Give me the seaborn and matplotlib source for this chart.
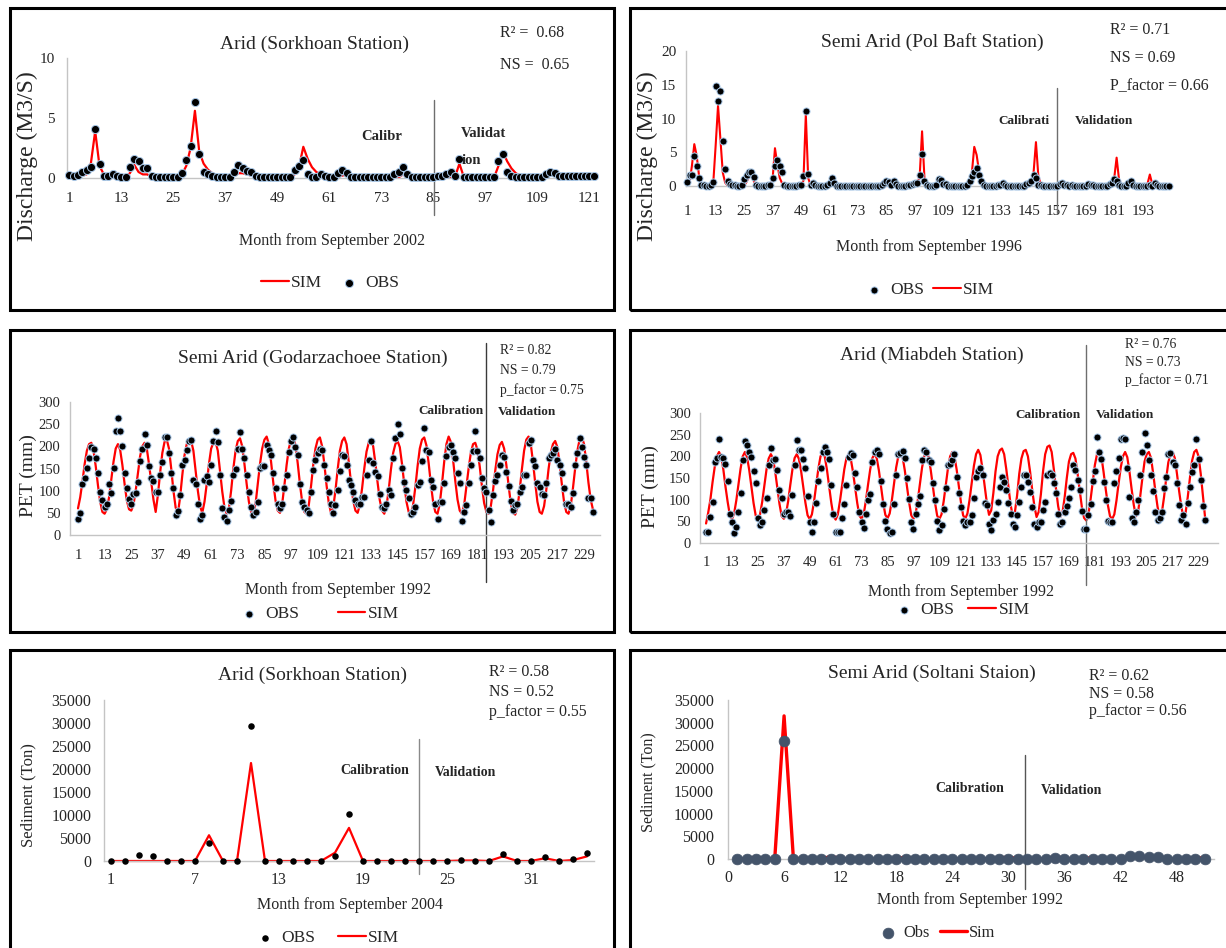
import numpy as np
import matplotlib
matplotlib.use("Agg")
import matplotlib.pyplot as plt
from matplotlib.patches import Rectangle
import seaborn as sns

sns.set_theme(style="white")
# serif look of the original (Times New Roman -> Liberation Serif)
plt.rcParams['font.family'] = ['Liberation Serif', 'DejaVu Serif']

# ---------------- data ----------------
# Panel 1: discharge, Sorkhoan (months from Sep 2002)
p1_obs = [0.28, 0.14, 0.28, 0.5, 0.7, 0.9, 4.1, 1.2, 0.2, 0.2,
          0.3, 0.2, 0.1, 0.1, 0.9, 1.6, 1.4, 0.8, 0.8, 0.2,
          0.1, 0.1, 0.1, 0.1, 0.1, 0.1, 0.4, 1.5, 2.7, 6.3,
          2.0, 0.5, 0.3, 0.2, 0.1, 0.1, 0.1, 0.1, 0.5, 1.1,
          0.8, 0.6, 0.5, 0.2, 0.1, 0.1, 0.1, 0.1, 0.1, 0.1,
          0.1, 0.1, 0.7, 1.0, 1.5, 0.3, 0.1, 0.1, 0.3, 0.2,
          0.1, 0.1, 0.4, 0.7, 0.4, 0.1, 0.1, 0.1, 0.1, 0.1,
          0.1, 0.1, 0.1, 0.1, 0.1, 0.3, 0.5, 0.9, 0.3, 0.1,
          0.1, 0.1, 0.1, 0.1, 0.1, 0.15, 0.2, 0.3, 0.5, 0.2,
          1.6, 0.1, 0.1, 0.1, 0.1, 0.1, 0.1, 0.1, 0.1, 1.4,
          2.0, 0.5, 0.2, 0.1, 0.1, 0.1, 0.1, 0.1, 0.1, 0.1,
          0.3, 0.5, 0.4, 0.2, 0.15, 0.15, 0.15, 0.15, 0.15, 0.15, 0.15, 0.15]
p1_sim = [0.2, 0.1, 0.1, 0.2, 0.3, 1.2, 3.9, 1.0, 0.3, 0.1,
          0.1, 0.1, 0.1, 0.1, 0.4, 1.1, 0.5, 0.3, 0.3, 0.1,
          0.05, 0.05, 0.05, 0.05, 0.05, 0.05, 0.3, 1.0, 2.5, 5.6,
          2.2, 1.2, 0.7, 0.4, 0.2, 0.1, 0.05, 0.05, 0.2, 0.4,
          0.4, 0.3, 0.2, 0.1, 0.05, 0.05, 0.05, 0.05, 0.05, 0.05,
          0.05, 0.05, 0.3, 0.9, 2.6, 1.6, 0.9, 0.5, 0.3, 0.2,
          0.1, 0.1, 0.1, 0.2, 0.3, 0.2, 0.05, 0.05, 0.05, 0.05,
          0.05, 0.05, 0.05, 0.05, 0.05, 0.05, 0.05, 0.3, 0.5, 0.2,
          0.05, 0.05, 0.05, 0.05, 0.05, 0.05, 0.05, 0.05, 0.05, 0.1,
          1.2, 0.1, 0.05, 0.05, 0.05, 0.05, 0.05, 0.05, 0.05, 1.0,
          2.2, 1.4, 0.8, 0.4, 0.2, 0.05, 0.05, 0.05, 0.05, 0.05,
          0.2, 0.3, 0.3, 0.2, 0.1, 0.1, 0.1, 0.1, 0.1, 0.1, 0.1, 0.1]

# Panel 2: discharge, Pol Baft (months from Sep 1996)
p2_obs = [0.6, 1.7, 1.7, 4.4, 2.9, 1.2, 0.1, 0.1, 0.0, 0.0,
          0.1, 0.6, 14.8, 12.6, 14.1, 6.7, 2.5, 0.8, 0.3, 0.1,
          0.1, 0.0, 0.0, 0.1, 1.0, 1.6, 2.1, 2.1, 1.3, 0.1,
          0.0, 0.0, 0.0, 0.0, 0.1, 0.1, 1.2, 3.0, 3.8, 3.0,
          2.1, 0.2, 0.0, 0.0, 0.0, 0.0, 0.0, 0.1, 0.2, 1.5,
          11.1, 1.8, 0.1, 0.4, 0.1, 0.0, 0.0, 0.0, 0.0, 0.1,
          0.4, 1.2, 0.4, 0.0, 0.0, 0.0, 0.0, 0.0, 0.0, 0.0,
          0.0, 0.0, 0.0, 0.0, 0.0, 0.0, 0.0, 0.0, 0.0, 0.0,
          0.0, 0.0, 0.1, 0.4, 0.7, 0.6, 0.2, 0.7, 0.3, 0.0,
          0.0, 0.0, 0.0, 0.1, 0.2, 0.3, 0.4, 0.5, 1.6, 4.7,
          0.7, 0.2, 0.0, 0.0, 0.0, 0.1, 1.0, 0.9, 0.3, 0.3,
          0.0, 0.0, 0.0, 0.0, 0.0, 0.0, 0.0, 0.0, 0.2, 0.8,
          1.5, 2.0, 2.6, 1.7, 0.7, 0.2, 0.0, 0.0, 0.0, 0.0,
          0.0, 0.1, 0.2, 0.4, 0.2, 0.0, 0.0, 0.0, 0.0, 0.0,
          0.0, 0.0, 0.0, 0.3, 0.5, 0.8, 1.6, 1.2, 0.2, 0.1,
          0.0, 0.0, 0.0, 0.0, 0.0, 0.0, 0.0, 0.3, 0.4, 0.2,
          0.1, 0.0, 0.2, 0.0, 0.0, 0.0, 0.0, 0.0, 0.0, 0.3,
          0.1, 0.2, 0.0, 0.0, 0.0, 0.0, 0.0, 0.0, 0.3, 0.5,
          1.0, 0.7, 0.1, 0.0, 0.0, 0.0, 0.4, 0.7, 0.1, 0.0,
          0.0, 0.0, 0.0, 0.0, 0.0, 0.1, 0.0, 0.4, 0.2, 0.0,
          0.0, 0.0, 0.0, 0.0]
p2_sim = [0.2, 0.5, 3.0, 6.2, 4.5, 1.5, 0.3, 0.1, 0.0, 0.0,
          0.0, 0.5, 6.0, 11.9, 7.0, 2.0, 0.5, 0.1, 0.0, 0.0,
          0.0, 0.0, 0.0, 0.0, 0.1, 0.6, 1.3, 1.6, 0.8, 0.1,
          0.0, 0.0, 0.0, 0.0, 0.0, 0.0, 1.0, 5.6, 3.2, 1.2,
          0.4, 0.1, 0.0, 0.0, 0.0, 0.0, 0.0, 0.0, 0.0, 0.8,
          10.6, 1.2, 0.1, 0.0, 0.0, 0.0, 0.0, 0.0, 0.0, 0.0,
          0.2, 0.3, 0.1, 0.0, 0.0, 0.0, 0.0, 0.0, 0.0, 0.0,
          0.0, 0.0, 0.0, 0.0, 0.0, 0.0, 0.0, 0.0, 0.0, 0.0,
          0.0, 0.0, 0.0, 0.0, 0.0, 0.0, 0.0, 0.0, 0.0, 0.0,
          0.0, 0.0, 0.0, 0.0, 0.0, 0.0, 0.0, 0.3, 1.5, 8.1,
          1.2, 0.3, 0.0, 0.0, 0.0, 0.0, 0.6, 0.8, 0.3, 0.1,
          0.0, 0.0, 0.0, 0.0, 0.0, 0.0, 0.0, 0.0, 0.0, 0.5,
          2.0, 5.8, 4.6, 2.2, 0.6, 0.1, 0.0, 0.0, 0.0, 0.0,
          0.0, 0.0, 0.0, 0.0, 0.0, 0.0, 0.0, 0.0, 0.0, 0.0,
          0.0, 0.0, 0.0, 0.0, 0.0, 0.4, 2.0, 6.5, 1.5, 0.2,
          0.0, 0.0, 0.0, 0.0, 0.0, 0.0, 0.0, 0.0, 0.0, 0.0,
          0.0, 0.0, 0.0, 0.0, 0.0, 0.0, 0.0, 0.0, 0.0, 0.0,
          0.0, 0.0, 0.0, 0.0, 0.0, 0.0, 0.0, 0.0, 0.0, 0.3,
          1.2, 4.2, 1.0, 0.2, 0.0, 0.0, 0.0, 0.0, 0.0, 0.0,
          0.0, 0.0, 0.0, 0.0, 0.3, 1.7, 0.3, 0.0, 0.0, 0.0,
          0.0, 0.0, 0.0, 0.0]

# Panel 3: PET, Godarzachoee (months from Sep 1992)
p3_obs = [36, 49, 114, 128, 152, 173, 199, 195, 174, 139, 98, 79,
          64, 71, 114, 94, 152, 235, 265, 235, 200, 139, 107, 81,
          71, 92, 94, 120, 168, 195, 227, 203, 156, 128, 122, 98,
          98, 135, 165, 220, 222, 186, 139, 107, 44, 54, 90, 158,
          169, 192, 211, 214, 124, 114, 69, 36, 44, 124, 132, 120,
          159, 212, 235, 210, 135, 62, 41, 32, 56, 77, 135, 150,
          195, 232, 195, 174, 135, 98, 64, 45, 53, 75, 152, 155,
          155, 203, 192, 181, 139, 107, 71, 62, 71, 107, 135, 188,
          212, 220, 199, 181, 114, 75, 64, 56, 49, 98, 147, 169,
          184, 195, 192, 158, 128, 98,
          71, 49, 68, 101, 144, 180, 178, 158, 124, 113, 98, 79,
          69, 71, 86, 86, 135, 169, 212, 162, 141, 132, 92, 64,
          62, 71, 101, 90, 173, 218, 250, 227, 152, 120, 101, 84,
          47, 51, 64, 113, 120, 167, 242, 192, 188, 124, 109, 69,
          36, 74, 75, 117, 179, 199, 203, 188, 173, 139, 117, 32,
          53, 68, 117, 159, 190, 235, 190, 174, 129,
          107, 98, 56, 30, 90, 122, 135, 158, 180, 176, 143, 111,
          77, 56, 68, 71, 96, 109, 135, 135, 207, 214, 169, 155,
          117, 109, 92, 90, 117, 174, 180, 184, 195, 169, 158, 139,
          107, 71, 69, 64, 94, 158, 186, 218, 199, 176, 158, 83, 83, 53]
p3_sim = [60, 85, 120, 160, 190, 205, 208, 190, 155, 112, 75, 52, 48,
          58, 85, 125, 165, 195, 205, 192, 158, 115, 78, 58, 55,
          68, 100, 140, 178, 200, 208, 195, 160, 120, 80, 52,
          90, 140, 185, 210, 215, 195, 150, 100, 62, 48,
          85, 135, 180, 205, 210, 212, 190, 145, 100, 65, 50,
          75, 115, 160, 195, 208, 210, 190, 145, 98, 62, 48,
          60, 100, 150, 190, 212, 218, 200, 160, 115, 75, 52, 48,
          70, 115, 160, 195, 215, 222, 205, 165, 118, 78, 55, 50,
          70, 112, 158, 195, 215, 220, 202, 162, 115, 75, 52, 48,
          68, 110, 158, 195, 215, 220, 200, 160, 112, 72, 50,
          62, 100, 148, 190, 212, 220, 205, 165, 118, 78, 55, 50,
          68, 105, 150, 188, 208, 215, 200, 162, 118, 78, 55, 48,
          65, 102, 148, 185, 205, 212, 198, 160, 115, 75, 52, 48,
          68, 108, 155, 195, 215, 220, 202, 162, 115, 75, 52, 48,
          70, 115, 165, 205, 222, 210, 170, 122, 80, 55, 48,
          68, 108, 150, 185, 205, 208, 192, 155, 110, 72, 52, 48,
          65, 100, 145, 182, 203, 210, 195, 158, 112, 72, 50, 46,
          62, 100, 148, 190, 215, 222, 205, 165, 118, 75, 52, 48,
          65, 102, 148, 185, 205, 212, 198, 160, 115, 75, 52, 48,
          65, 105, 150, 190, 215, 222, 205, 165, 118, 80, 58]

# Panel 4: PET, Miabdeh (months from Sep 1992)
p4_obs = [26, 26, 61, 95, 186, 197, 239, 199, 197, 182,
          143, 68, 48, 24, 38, 72, 115, 192, 235, 226,
          211, 199, 166, 138, 58, 42, 49, 76, 103, 180,
          220, 192, 195, 168, 122, 103, 68, 72, 72, 63,
          111, 179, 238, 215, 215, 195, 172, 109, 49, 25,
          48, 92, 143, 172, 211, 222, 211, 194, 135, 66,
          26, 26, 26, 58, 89, 134, 199, 207, 203, 161,
          130, 72, 48, 34, 66, 99, 112, 186, 211, 215,
          205, 143, 89, 51, 32, 22, 26, 89, 158, 205,
          207, 213, 197, 149, 101, 48, 32, 66, 89, 109,
          192, 215, 211, 192, 188, 138, 99, 51, 30, 42,
          78, 126, 180, 182, 192, 205,
          153, 115, 84, 51, 42, 49, 49, 65, 103, 153,
          166, 172, 157, 92, 88, 45, 30, 53, 68, 95,
          130, 153, 141, 122, 92, 68, 43, 38, 65, 95,
          130, 157, 157, 141, 117, 84, 45, 38, 49, 49,
          76, 95, 157, 161, 157, 138, 115, 68, 45, 49,
          72, 85, 103, 130, 180, 169, 145, 122, 74, 32,
          32, 65, 89, 143, 166, 245, 211, 194, 140, 99,
          51, 48, 49, 138, 166, 197, 240, 242, 240, 172,
          107, 58, 48, 72, 99, 158, 211, 255, 226, 192,
          157, 120, 72, 53, 57, 72, 126, 153, 205, 207,
          186, 180, 138, 88, 53, 65, 45, 92, 130, 164,
          180, 240, 195, 145, 86, 53]
p4_sim = [45, 70, 100, 140, 175, 200, 210, 200, 170, 130, 95, 65, 55,
          68, 98, 135, 172, 200, 210, 198, 168, 130, 92, 63, 55,
          66, 95, 133, 170, 195, 205, 195, 165, 128, 90, 62, 56,
          67, 96, 134, 170, 196, 205, 194, 166, 130, 93, 64, 55,
          66, 96, 135, 172, 200, 210, 198, 168, 130, 92, 62, 54,
          66, 97, 133, 170, 196, 205, 194, 165, 128, 92, 63, 56,
          67, 98, 135, 170, 196, 205, 196, 168, 130, 93, 65, 57,
          68, 98, 136, 174, 200, 210, 198, 168, 131, 94, 64, 56,
          67, 98, 136, 174, 200, 210, 199, 169, 131, 93, 63, 55,
          66, 96, 135, 173, 200, 210, 199, 170, 132, 94, 64, 56,
          68, 100, 140, 178, 205, 215, 203, 170, 130, 92, 65,
          75, 115, 165, 200, 214, 218, 205, 170, 128, 88, 62,
          72, 110, 160, 195, 212, 215, 200, 165, 122, 85, 60,
          72, 112, 165, 205, 222, 225, 210, 170, 125, 85, 60,
          70, 105, 150, 188, 205, 208, 195, 160, 120, 82, 58, 52,
          65, 100, 140, 180, 205, 215, 200, 165, 125, 88, 62, 55,
          66, 98, 138, 175, 200, 210, 198, 165, 125, 88, 62,
          72, 108, 150, 188, 205, 210, 196, 160, 120, 84, 60,
          70, 105, 148, 186, 205, 210, 196, 160, 120, 84, 60,
          70, 106, 150, 190, 210, 215, 200, 160, 110, 60]

# Panel 5: sediment, Sorkhoan (months from Sep 2004)
p5_obs = [0, 100, 1300, 1000, 100, 0, 100, 4000, 0, 0,
          29300, 0, 0, 0, 0, 0, 1000, 10300, 0, 0,
          0, 100, 0, 0, 0, 300, 100, 0, 1500, 0,
          0, 900, 0, 400, 1800]
p5_sim = [0, 0, 0, 0, 0, 0, 0, 5600, 0, 0,
          21300, 0, 0, 0, 0, 0, 1800, 7200, 0, 0,
          0, 0, 0, 0, 0, 100, 100, 0, 1000, 0,
          0, 600, 0, 200, 1000]

# Panel 6: sediment, Soltani (months from Sep 1992)
p6_obs = [0, 0, 100, 0, 0, 26000, 0, 100, 0, 0,
          100, 0, 0, 0, 0, 0, 0, 0, 100, 0,
          0, 0, 100, 100, 0, 0, 0, 0, 0, 100,
          0, 0, 0, 0, 200, 100, 0, 0, 100, 0,
          0, 0, 600, 600, 400, 400, 0, 0, 0, 0, 0]
p6_sim = [0, 100, 400, 100, 0, 31500, 0, 200, 100, 100,
          500, 200, 0, 0, 0, 0, 0, 100, 400, 100,
          0, 0, 100, 100, 0, 0, 0, 100, 200, 400,
          100, 0, 0, 100, 500, 200, 0, 100, 300, 100,
          0, 100, 500, 400, 200, 100, 0, 0, 100, 300, 200]

# ---------------- layout helpers (pixel based) ----------------
W, H = 1226, 948
fig = plt.figure(figsize=(W / 100, H / 100), dpi=100)


def txt(x, y, s, size, ha='left', va='center', **kw):
    fig.text(x / W, 1 - y / H, s, fontsize=size, ha=ha, va=va, **kw)


def make_ax(rect, xlim, ylim, xticks, yticks, fs, xpad, ypad):
    l, t, r, b = rect
    ax = fig.add_axes([l / W, 1 - b / H, (r - l) / W, (b - t) / H])
    ax.set_facecolor('none')
    ax.set_xlim(*xlim)
    ax.set_ylim(*ylim)
    ax.set_xticks(xticks)
    ax.set_yticks(yticks)
    ax.tick_params(length=0, labelsize=fs, colors='#262626')
    ax.tick_params(axis='x', pad=xpad)
    ax.tick_params(axis='y', pad=ypad)
    for s in ['top', 'right']:
        ax.spines[s].set_visible(False)
    for s in ['left', 'bottom']:
        ax.spines[s].set_color('#c4c4c4')
        ax.spines[s].set_linewidth(1)
    ax.grid(False)
    return ax


def sep(ax, rect, x, top_px, bot_px, color='#6e6e6e'):
    l, t, r, b = rect
    ax.axvline(x, ymin=(b - bot_px) / (b - t), ymax=(b - top_px) / (b - t),
               color=color, lw=1, clip_on=False)


def legend(ax, order, cx, cy, fs, colsp):
    h, lab = ax.get_legend_handles_labels()
    d = dict(zip(lab, h))
    ax.legend([d[k] for k in order], order, loc='center',
              bbox_to_anchor=(cx / W, 1 - cy / H), bbox_transform=fig.transFigure,
              ncol=2, frameon=False, fontsize=fs, handlelength=1.6,
              handletextpad=0.15, columnspacing=colsp, borderpad=0)


def draw(ax, x, obs, sim, s, lw, ocol='black', ec='#a9c8e8', ew=0.7,
         olab='OBS', slab='SIM'):
    sns.lineplot(x=x, y=sim, ax=ax, color='red', lw=lw, label=slab,
                 clip_on=False, zorder=2)
    sns.scatterplot(x=x, y=obs, ax=ax, color=ocol, s=s, edgecolor=ec,
                    linewidth=ew, label=olab, clip_on=False, zorder=3)


bold = dict(fontweight='bold')

# ---------------- panel 1 ----------------
r1 = (67, 58, 596, 178)
ax1 = make_ax(r1, (0.5, 122.5), (0, 10), list(range(1, 122, 12)), [0, 5, 10], 11, 10, 9)
draw(ax1, np.arange(1, len(p1_obs) + 1), p1_obs, p1_sim, 34, 1.6)
sep(ax1, r1, 85.2, 100, 215)
legend(ax1, ['SIM', 'OBS'], 330, 283, 12.5, 0.7)
txt(315, 44, 'Arid (Sorkhoan Station)', 14, ha='center')
txt(500, 33, 'R² =  0.68', 11.5)
txt(500, 65, 'NS =  0.65', 11.5)
txt(332, 241, 'Month from September 2002', 11.5, ha='center')
txt(27, 156, 'Discharge (M3/S)', 17, ha='center', rotation=90)
txt(382, 136, 'Calibr', 10.5, ha='center', **bold)
txt(483, 134, 'Validat', 10.5, ha='center', **bold)
txt(462, 161, 'ion', 10.5, **bold)

# ---------------- panel 2 ----------------
r2 = (686, 51, 1170, 186)
ax2 = make_ax(r2, (0.5, 204.5), (0, 20), list(range(1, 194, 12)), [0, 5, 10, 15, 20], 11, 14, 7)
draw(ax2, np.arange(1, len(p2_obs) + 1), p2_obs, p2_sim, 26, 1.5)
sep(ax2, r2, 157, 88, 213)
legend(ax2, ['OBS', 'SIM'], 927, 290, 12.5, 0.5)
txt(932, 42, 'Semi Arid (Pol Baft Station)', 14, ha='center')
txt(1110, 30, 'R² = 0.71', 11.5)
txt(1110, 58, 'NS = 0.69', 11.5)
txt(1110, 86, 'P_factor = 0.66', 11.5)
txt(929, 247, 'Month from September 1996', 11.5, ha='center')
txt(647, 156, 'Discharge (M3/S)', 17, ha='center', rotation=90)
txt(1024, 121, 'Calibrati', 9.5, ha='center', **bold)
txt(1104, 121, 'Validation', 9.5, ha='center', **bold)

# ---------------- panel 3 ----------------
r3 = (70, 402, 600, 535)
ax3 = make_ax(r3, (-2.6, 236.2), (0, 300), list(range(1, 230, 12)), list(range(0, 301, 50)), 10.5, 10, 7)
draw(ax3, np.arange(1, len(p3_obs) + 1), p3_obs, p3_sim, 26, 1.6)
sep(ax3, r3, 185, 343, 582, color='#3a3a3a')
legend(ax3, ['OBS', 'SIM'], 317, 614, 12.5, 2.2)
txt(313, 358, 'Semi Arid (Godarzachoee Station)', 14, ha='center')
txt(500, 351, 'R² = 0.82', 9.8)
txt(500, 370, 'NS = 0.79', 9.8)
txt(500, 390, 'p_factor = 0.75', 9.8)
txt(338, 590, 'Month from September 1992', 11.5, ha='center')
txt(28, 476, 'PET (mm)', 14, ha='center', rotation=90)
txt(451, 411, 'Calibration', 9.5, ha='center', **bold)
txt(527, 412, 'Validation', 9.5, ha='center', **bold)

# ---------------- panel 4 ----------------
r4 = (700, 413, 1218, 543)
ax4 = make_ax(r4, (-1.8, 238.0), (0, 300), list(range(1, 230, 12)), list(range(0, 301, 50)), 10.5, 9, 6.5)
draw(ax4, np.arange(1, len(p4_obs) + 1), p4_obs, p4_sim, 26, 1.6)
sep(ax4, r4, 177, 345, 585)
legend(ax4, ['OBS', 'SIM'], 960, 610, 12.5, 0.8)
txt(932, 355, 'Arid (Miabdeh Station)', 14, ha='center')
txt(1125, 344, 'R² = 0.76', 9.8)
txt(1125, 362, 'NS = 0.73', 9.8)
txt(1125, 380, 'p_factor = 0.71', 9.8)
txt(961, 592, 'Month from September 1992', 11.5, ha='center')
txt(650, 487, 'PET (mm)', 14, ha='center', rotation=90)
txt(1048, 415, 'Calibration', 9.5, ha='center', **bold)
txt(1125, 415, 'Validation', 9.5, ha='center', **bold)

# ---------------- panel 5 ----------------
r5 = (104, 700, 594, 861)
ax5 = make_ax(r5, (0.5, 35.5), (0, 35000), list(range(1, 36, 6)), list(range(0, 35001, 5000)), 11.5, 8, 9)
draw(ax5, np.arange(1, len(p5_obs) + 1), p5_obs, p5_sim, 22, 1.6, ec='black', ew=0)
sep(ax5, r5, 23, 739, 874, color='#8a8a8a')
legend(ax5, ['OBS', 'SIM'], 325, 938, 12.5, 1.3)
txt(313, 675, 'Arid (Sorkhoan Station)', 14, ha='center')
txt(489, 672, 'R² = 0.58', 11.4)
txt(489, 692, 'NS = 0.52', 11.4)
txt(489, 712, 'p_factor = 0.55', 11.4)
txt(350, 905, 'Month from September 2004', 11.5, ha='center')
txt(28, 795, 'Sediment (Ton)', 12, ha='center', rotation=90)
txt(375, 771, 'Calibration', 10, ha='center', **bold)
txt(466, 772, 'Validation', 10, ha='center', **bold)

# ---------------- panel 6 ----------------
r6 = (728, 700, 1214, 859)
ax6 = make_ax(r6, (0, 52), (0, 35000), list(range(0, 49, 6)), list(range(0, 35001, 5000)), 11.5, 8, 10)
draw(ax6, np.arange(1, len(p6_obs) + 1), p6_obs, p6_sim, 60, 2.4,
     ocol='#44546a', ec='#44546a', ew=0.5, olab='Obs', slab='Sim')
sep(ax6, r6, 31.8, 755, 889, color='#555555')
legend(ax6, ['Obs', 'Sim'], 935, 933, 11.8, 0.65)
txt(932, 673, 'Semi Arid (Soltani Staion)', 14, ha='center')
txt(1089, 676, 'R² = 0.62', 11.4)
txt(1089, 694, 'NS = 0.58', 11.4)
txt(1089, 711, 'p_factor = 0.56', 11.4)
txt(970, 900, 'Month from September 1992', 11.5, ha='center')
txt(648, 782, 'Sediment (Ton)', 11.5, ha='center', rotation=90)
txt(970, 788, 'Calibration', 10, ha='center', **bold)
txt(1072, 790, 'Validation', 10, ha='center', **bold)

# ---------------- panel frames ----------------
for (l, t, r, b) in [(10, 8, 614, 310), (630, 8, 1232, 310),
                     (10, 330, 614, 632), (630, 330, 1232, 632),
                     (10, 650, 614, 954), (630, 650, 1232, 954)]:
    fig.add_artist(Rectangle((l / W, 1 - b / H), (r - l) / W, (b - t) / H,
                             transform=fig.transFigure, fill=False,
                             ec='black', lw=2.2))

fig.savefig('out.png', dpi=100, facecolor='white')
